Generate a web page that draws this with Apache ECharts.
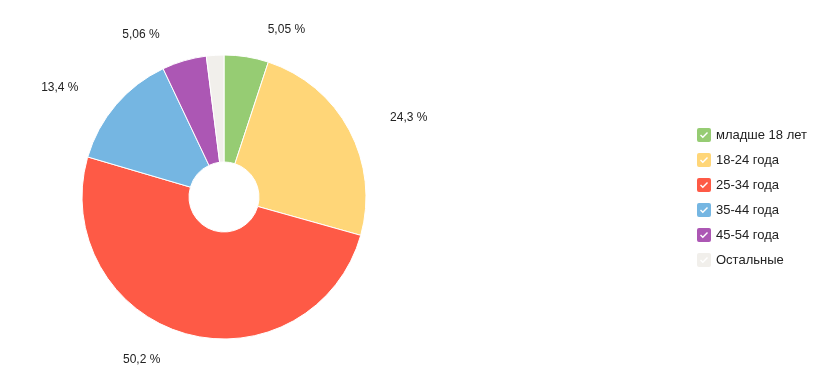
<!DOCTYPE html>
<html><head><meta charset="utf-8">
<script src="https://cdn.jsdelivr.net/npm/echarts@6/dist/echarts.min.js"></script>
<style>html,body{margin:0;padding:0;background:#fff}#c{width:818px;height:390px}</style>
</head><body><div id="c"></div>
<script>
const categories = ['младше 18 лет', '18-24 года', '25-34 года', '35-44 года', '45-54 года', 'Остальные'];
const values = [5.05, 24.3, 50.2, 13.4, 5.06, 1.99];
const colors = ['#96cc73', '#ffd678', '#fe5a46', '#75b6e2', '#ac57b4', '#f1efeb'];
const hiddenLabels = ['Остальные'];

const icon = 'path://M2,0 H12 A2,2 0 0 1 14,2 V12 A2,2 0 0 1 12,14 H2 A2,2 0 0 1 0,12 V2 A2,2 0 0 1 2,0 Z M3,7.5 L5.8,10.3 L11,5 L10,4 L5.8,8.3 L4,6.5 Z';

const chart = echarts.init(document.getElementById('c'));
chart.setOption({
  animation: false,
  color: colors,
  legend: {
    orient: 'vertical',
    left: 692,
    top: 123,
    itemWidth: 14,
    itemHeight: 14,
    itemGap: 11,
    itemTextGap: 5,
    icon: icon,
    itemStyle: { borderWidth: 0 },
    textStyle: { fontSize: 13, color: '#222', fontFamily: 'Arial, "Liberation Sans", sans-serif' },
    data: categories
  },
  series: [{
    type: 'pie',
    center: [224, 197],
    radius: [35, 142],
    startAngle: 90,
    clockwise: true,
    itemStyle: { borderColor: '#fff', borderWidth: 1 },
    label: {
      show: true,
      position: 'outside',
      fontSize: 12,
      color: '#222',
      fontFamily: 'Arial, "Liberation Sans", sans-serif',
      formatter: p => String(p.value).replace('.', ',') + ' %'
    },
    labelLine: { show: false, length: 27, length2: 12 },
    emphasis: { disabled: true },
    data: categories.map((c, i) => ({
      name: c,
      value: values[i],
      label: { show: hiddenLabels.indexOf(c) < 0 }
    }))
  }]
});
</script></body></html>
